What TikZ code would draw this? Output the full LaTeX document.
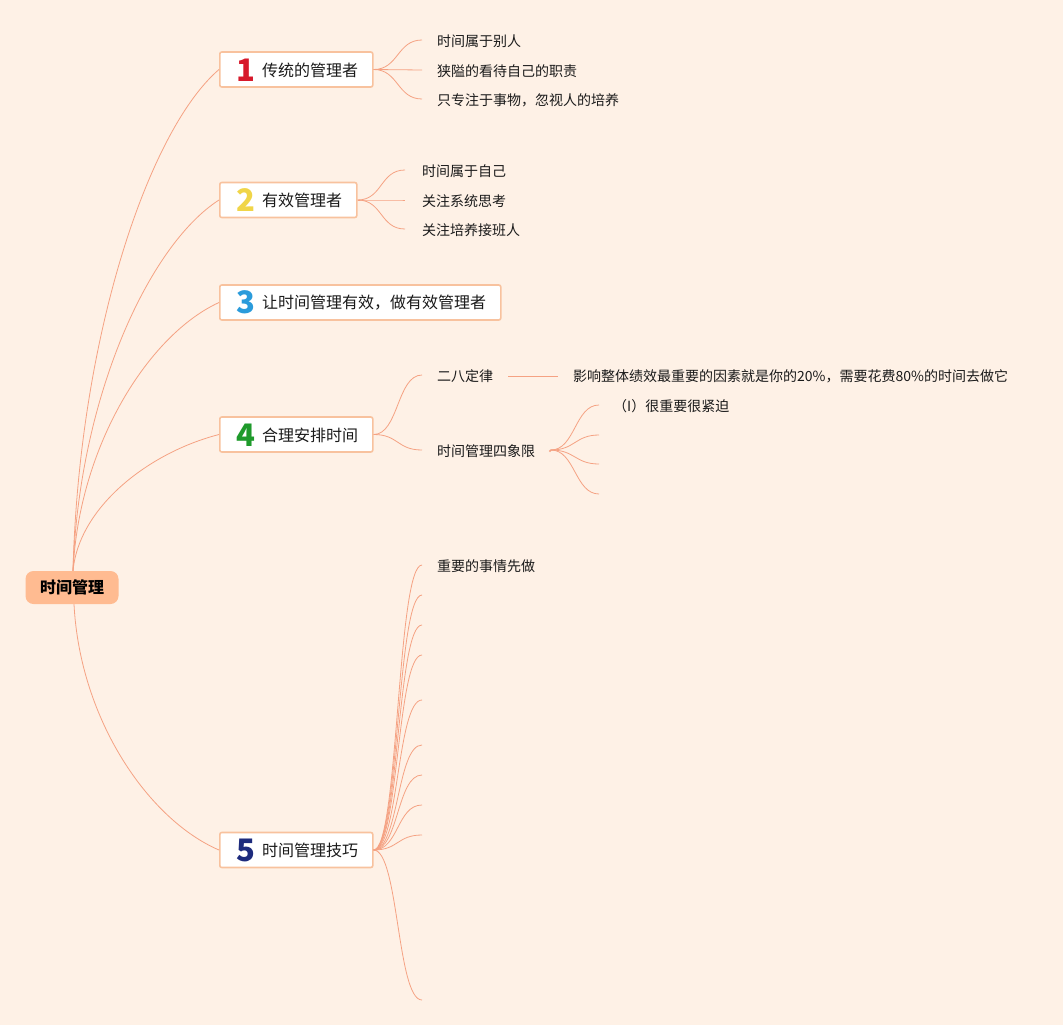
\documentclass[tikz,border=0pt]{standalone}
\usepackage{fontspec}
\setmainfont{Noto Sans CJK SC}
\definecolor{bg}{HTML}{FEF1E6}
\definecolor{lc}{HTML}{F5A283}
\definecolor{bc}{HTML}{F8C29E}
\definecolor{rootfill}{HTML}{FFBB91}
\definecolor{tc}{HTML}{1A1A1A}
\definecolor{c1}{HTML}{D7192B}
\definecolor{c2}{HTML}{F0D548}
\definecolor{c3}{HTML}{2A9BDB}
\definecolor{c4}{HTML}{1E9A2B}
\definecolor{c5}{HTML}{1D2B7D}
\begin{document}
\begin{tikzpicture}[x=1pt,y=-1pt,
  conn/.style={draw=lc, line width=0.8pt},
  rootbox/.style={fill=rootfill, rounded corners=8pt, minimum width=93pt, minimum height=33pt, inner sep=0, font=\bfseries\fontsize{16}{18}\selectfont, text=black},
  topic/.style={draw=bc, line width=1.6pt, fill=white, rounded corners=2pt, minimum height=35pt, anchor=west, inner sep=0},
  lab/.style={anchor=west, inner sep=0, font=\fontsize{16}{18}\selectfont, text=tc},
  leaf/.style={anchor=west, inner sep=0, font=\fontsize{14}{16}\selectfont, text=tc},
  num/.style={inner sep=0, font=\bfseries\fontsize{31}{31}\selectfont}]
\fill[bg] (0,0) rectangle (1063,1025);
\useasboundingbox (0,0) rectangle (1063,1025);

% root
\node[rootbox] (root) at (72,587.5) {时间管理};

% topic boxes
\node[topic, minimum width=153pt] (b1) at (219,69.5) {};
\node[num, text=c1] (n1) at (246,70) {1};
\node[lab] (t1) at (262,70) {传统的管理者};

\node[topic, minimum width=137pt] (b2) at (219,200) {};
\node[num, text=c2] (n2) at (246,200) {2};
\node[lab] (t2) at (262,200) {有效管理者};

\node[topic, minimum width=281pt] (b3) at (219,302.5) {};
\node[num, text=c3] (n3) at (246,302.5) {3};
\node[lab] (t3) at (262,302.5) {让时间管理有效，做有效管理者};

\node[topic, minimum width=153pt] (b4) at (219,434.5) {};
\node[num, text=c4] (n4) at (246,435) {4};
\node[lab] (t4) at (262,435) {合理安排时间};

\node[topic, minimum width=153pt] (b5) at (219,850) {};
\node[num, text=c5] (n5) at (246,850) {5};
\node[lab] (t5) at (262,850) {时间管理技巧};

% root connectors
\draw[conn] ([xshift=1pt]root.north) .. controls +(6,-235) and +(-70,60) .. (b1.west);
\draw[conn] ([xshift=1pt]root.north) .. controls +(6,-174) and +(-70,45) .. (b2.west);
\draw[conn] ([xshift=1pt]root.north) .. controls +(6,-126) and +(-70,32) .. (b3.west);
\draw[conn] ([xshift=1pt]root.north) .. controls +(6,-64) and +(-70,18) .. (b4.west);
\draw[conn] ([xshift=2pt]root.south) .. controls +(6,116) and +(-70,-30) .. (b5.west);

% branch 1
\coordinate (e11) at (422,40);
\coordinate (e12) at (422,70);
\coordinate (e13) at (422,99);
\node[leaf] (l11) at (437,41.5) {时间属于别人};
\node[leaf] (l12) at (437,71.5) {狭隘的看待自己的职责};
\node[leaf] (l13) at (437,100.5) {只专注于事物，忽视人的培养};
\foreach \e in {e11,e12,e13}
  \draw[conn] (b1.east) .. controls +(25,0) and +(-25,0) .. (\e);

% branch 2
\coordinate (e21) at (405,170);
\coordinate (e22) at (405,200);
\coordinate (e23) at (405,229);
\node[leaf] (l21) at (422,171.5) {时间属于自己};
\node[leaf] (l22) at (422,201.5) {关注系统思考};
\node[leaf] (l23) at (422,230.5) {关注培养接班人};
\foreach \e in {e21,e22,e23}
  \draw[conn] (b2.east) .. controls +(25,0) and +(-25,0) .. (\e);

% branch 4
\coordinate (e41) at (422,375);
\coordinate (e42) at (422,450);
\node[leaf] (l41) at (437,376.5) {二八定律};
\node[leaf] (l42) at (437,451.5) {时间管理四象限};
\node[leaf] (long) at (573,376.5) {影响整体绩效最重要的因素就是你的20\%，需要花费80\%的时间去做它};
\foreach \e in {e41,e42}
  \draw[conn] (b4.east) .. controls +(25,0) and +(-25,0) .. (\e);
\draw[conn] ([xshift=15pt]l41.east) -- ([xshift=-15pt]long.west);

\coordinate (q0) at (551,450);
\draw[conn, line width=1.6pt] ([xshift=14pt]l42.east) -- (q0);
\coordinate (q1) at (599,405);
\coordinate (q2) at (599,435);
\coordinate (q3) at (599,464);
\coordinate (q4) at (599,494);
\node[leaf] (lq1) at (613,406.5) {（I）很重要很紧迫};
\foreach \e in {q1,q2,q3,q4}
  \draw[conn] (q0) .. controls +(24,0) and +(-24,0) .. (\e);

% branch 5
\foreach \y [count=\i] in {565,595,625,655,700,745,775,805,835,1000}
  \coordinate (f\i) at (422,\y);
\node[leaf] (l51) at (437,566.5) {重要的事情先做};
\foreach \i in {1,...,10}
  \draw[conn] (b5.east) .. controls +(25,0) and +(-25,0) .. (f\i);
\end{tikzpicture}
\end{document}
